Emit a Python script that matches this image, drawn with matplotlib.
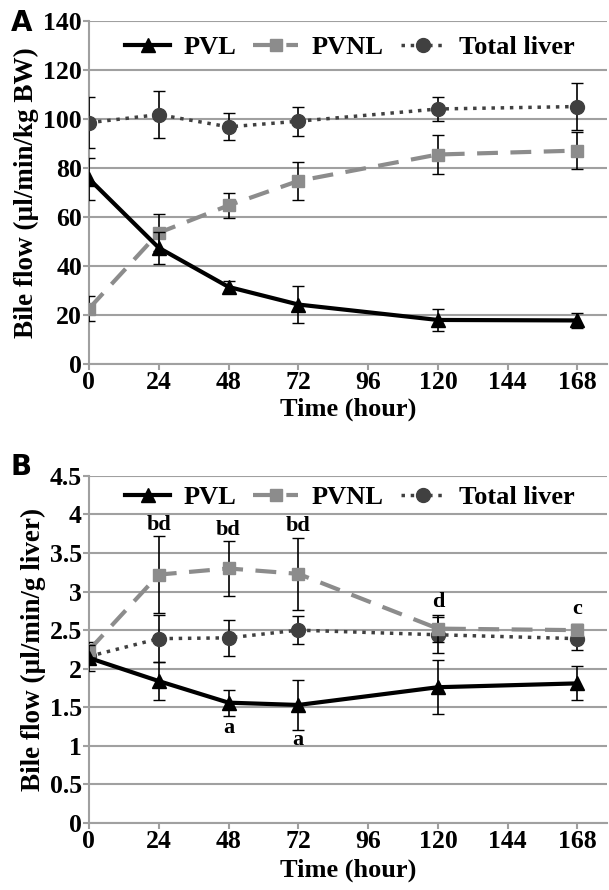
import matplotlib
matplotlib.use("Agg")
import matplotlib.pyplot as plt
from matplotlib.lines import Line2D

# time points (hour)
hours = [0, 24, 48, 72, 120, 168]

# panel A: ul/min/kg BW
a_pvl = [75.7, 47.5, 31.5, 24.3, 18.0, 17.8]
a_pvl_err = [8.5, 6.5, 2.5, 7.7, 4.5, 3.0]
a_pvnl = [22.6, 53.6, 64.8, 74.8, 85.6, 87.2]
a_pvnl_err = [5.0, 7.5, 5.0, 7.8, 8.0, 7.5]
a_total = [98.6, 101.9, 96.9, 99.2, 104.2, 105.2]
a_total_err = [10.5, 9.5, 5.5, 6.0, 5.0, 9.6]

# panel B: ul/min/g liver
b_pvl = [2.14, 1.84, 1.56, 1.53, 1.76, 1.81]
b_pvl_err = [0.17, 0.25, 0.17, 0.33, 0.35, 0.22]
b_pvnl = [2.24, 3.22, 3.30, 3.23, 2.52, 2.50]
b_pvnl_err = [0.10, 0.50, 0.36, 0.47, 0.18, 0.08]
b_total = [2.16, 2.39, 2.40, 2.50, 2.44, 2.39]
b_total_err = [0.10, 0.30, 0.23, 0.18, 0.23, 0.15]

# significance letters
b_letters_x = [24, 48, 72, 120, 168, 48, 72]
b_letters_y = [3.86, 3.80, 3.85, 2.86, 2.78, 1.23, 1.08]
b_letters = ["bd", "bd", "bd", "d", "c", "a", "a"]

plt.rcParams["font.family"] = ["Liberation Serif", "DejaVu Serif"]
plt.rcParams["font.weight"] = "bold"
plt.rcParams["axes.labelweight"] = "bold"

GRID = "#a0a0a0"

STYLES = {
    "PVL": dict(color="black", ls="-", lw=3, marker="^", ms=10),
    "PVNL": dict(color="#8c8c8c", ls=(0, (5, 3)), lw=3, marker="s", ms=9),
    "Total liver": dict(color="#404040", ls=":", lw=2.5, marker="o", ms=10),
}


def panel(ax, pvl, pvl_e, pvnl, pvnl_e, tot, tot_e, ylim, ystep, ylabel, xlab_y, leg_y):
    for name, vals, errs, z in [("Total liver", tot, tot_e, 3),
                                ("PVNL", pvnl, pvnl_e, 4),
                                ("PVL", pvl, pvl_e, 5)]:
        ax.errorbar(hours, vals, yerr=errs, ecolor="black", elinewidth=1.2,
                    capsize=4, zorder=z, **STYLES[name])
    ax.set_xlim(0, 178)
    ax.set_ylim(*ylim)
    ax.set_xticks([0, 24, 48, 72, 96, 120, 144, 168])
    yt = [i * ystep for i in range(int(round(ylim[1] / ystep)) + 1)]
    ax.set_yticks(yt)
    ax.set_yticklabels([f"{v:g}" for v in yt])
    ax.yaxis.grid(True, color=GRID, lw=1.5)
    ax.set_axisbelow(True)
    for s in ["top", "right"]:
        ax.spines[s].set_visible(False)
    for s in ["left", "bottom"]:
        ax.spines[s].set_color(GRID)
        ax.spines[s].set_linewidth(1.5)
    ax.tick_params(colors=GRID, labelcolor="black", labelsize=18.5, length=4, width=1.5, pad=1)
    ax.set_xlabel("Time (hour)", fontsize=19)
    ax.xaxis.label.set_va("center")
    ax.xaxis.set_label_coords(0.5, xlab_y)
    ax.set_ylabel(ylabel, fontsize=19.5, labelpad=3)
    handles = [Line2D([], [], **STYLES[n]) for n in ["PVL", "PVNL", "Total liver"]]
    ax.legend(handles, ["PVL", "PVNL", "Total liver"], loc="center",
              bbox_to_anchor=(0.504, leg_y), ncol=3, frameon=False, fontsize=19,
              handlelength=1.7, columnspacing=0.65, handletextpad=0.5,
              borderpad=0, borderaxespad=0)


fig = plt.figure(figsize=(6.09, 8.90), dpi=100)
ax1 = fig.add_axes([0.146, 0.591, 0.85, 0.385])
ax2 = fig.add_axes([0.146, 0.0753, 0.85, 0.390])

panel(ax1, a_pvl, a_pvl_err, a_pvnl, a_pvnl_err, a_total, a_total_err,
      (0, 140), 20, "Bile flow (µl/min/kg BW)", -0.131, 0.924)
panel(ax2, b_pvl, b_pvl_err, b_pvnl, b_pvnl_err, b_total, b_total_err,
      (0, 4.5), 0.5, "Bile flow (µl/min/g liver)", -0.135, 0.937)

for x, y, t in zip(b_letters_x, b_letters_y, b_letters):
    ax2.text(x, y, t, ha="center", va="center", fontsize=16, fontweight="bold")

fig.text(0.018, 0.974, "A", family="DejaVu Sans", fontsize=20, fontweight="bold", va="center")
fig.text(0.018, 0.475, "B", family="DejaVu Sans", fontsize=20, fontweight="bold", va="center")

fig.savefig("out.png", dpi=100)
